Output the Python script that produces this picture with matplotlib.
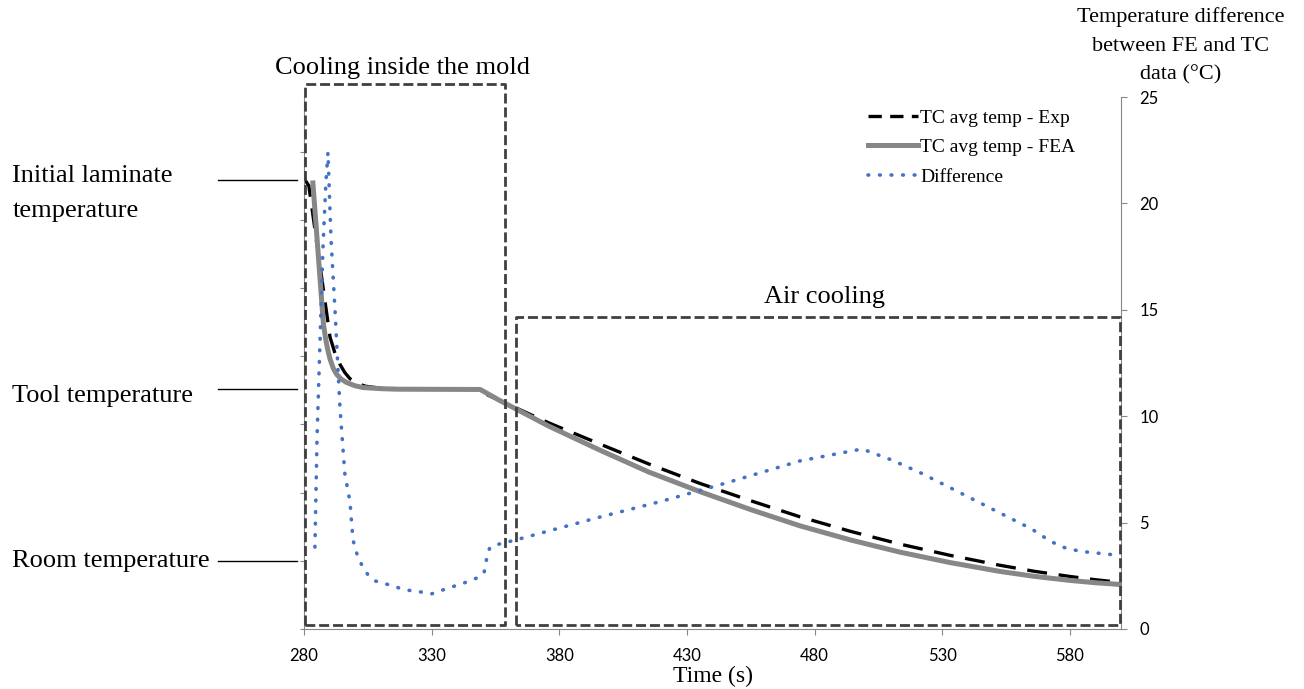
import matplotlib.pyplot as plt
from matplotlib.lines import Line2D
import matplotlib.transforms as mtransforms

# TC average temperature - experiment (left axis, no labels)
time_exp = [280, 281.9, 290.2, 292.5, 294.1, 296, 298, 301, 304, 310, 320, 340, 347,
            349, 352, 356.8, 376, 395.9, 415, 435.1, 455, 474.3, 494, 513.5, 533,
            552.6, 566, 580, 590, 600]
temp_exp = [330.4, 325, 214, 200, 194, 188, 183.5, 180, 178, 176.5, 176, 175.8, 175.5,
            174.5, 171.5, 167.4, 151, 135.6, 121, 106.7, 94, 82.2, 71.6, 62.2, 54,
            46.7, 42.3, 38.5, 36.1, 34.1]

# TC average temperature - FEA
time_fea = [283.5, 287.6, 288.3, 288.9, 289.6, 290.2, 291.5, 292.8, 294.5, 296.7, 300,
            303.2, 310, 316.3, 349, 356.8, 376, 395.9, 415, 435.1, 455, 474.3, 494,
            513.5, 533, 552.6, 566, 580, 590, 600]
temp_fea = [327, 224, 215, 208.5, 202.5, 198, 191, 186.7, 183.3, 180.7, 178.3,
            177, 176.2, 175.8, 175.6, 167.4, 148.6, 131.1, 115.1, 100.7, 87.5, 75.6, 65.3,
            56.3, 48.7, 42.2, 38.6, 35.6, 33.9, 32.6]

# difference between FE and TC data (right axis)
time_diff = [284.3, 285.1, 286.3, 287.4, 288.6, 289.4, 290.6, 292.1, 294.1, 296, 298,
             299.2, 301.2, 303.1, 305.1, 307.8, 310.9, 314.9, 318.4, 322.3, 325.8, 329.7,
             333.3, 336.8, 340.3, 343.8, 347.8, 350.5, 351.3, 351.7, 352.9, 356.4, 363.4,
             375, 395.9, 420, 445, 474.3, 498.6, 510, 521.3, 537, 552.6, 565, 572,
             577, 584, 592, 600]
diff = [3.85, 8.9, 13.6, 17.8, 21, 22.4, 18.3, 15.1, 10.4, 7.3, 6.0,
        4.18, 3.34, 2.91, 2.54, 2.26, 2.16, 2.02, 1.88, 1.79, 1.74, 1.64,
        1.79, 1.93, 2.07, 2.21, 2.40, 2.63, 3.10, 3.48, 3.85, 3.99, 4.2,
        4.58, 5.26, 6.0, 6.85, 7.9, 8.46, 7.95, 7.35, 6.4, 5.45, 4.7, 4.15,
        3.85, 3.65, 3.55, 3.45]

level_labels = ["Initial laminate\ntemperature", "Tool temperature", "Room temperature"]
level_temps = [329, 175.6, 49.6]
label_temps = [319, 171, 50]

serif = "Liberation Serif"
plt.rcParams["font.family"] = "Lato"

fig = plt.figure(figsize=(13.04, 6.89), dpi=100)
ax = fig.add_axes([0.2331, 0.0871, 0.6266, 0.7721])
ax2 = ax.twinx()

grey = "#888888"
blue = "#4472C4"
ax.plot(time_exp, temp_exp, color="black", lw=2.4, linestyle=(0, (6, 3.5)), zorder=2)
ax.plot(time_fea, temp_fea, color="#878787", lw=3.6, zorder=3)
ax2.plot(time_diff, diff, color=blue, lw=2.6, linestyle=(0, (0.2, 3)),
         dash_capstyle="round")

ax.set_xlim(280, 600)
ax.set_ylim(0, 390)
ax2.set_ylim(0, 25)
ax.set_xticks(range(280, 600, 50))
ax.set_yticks(range(0, 390, 50))
ax.set_yticklabels([])
ax2.set_yticks(range(0, 26, 5))

for s in ["top", "right"]:
    ax.spines[s].set_visible(False)
for s in ["top", "left", "bottom"]:
    ax2.spines[s].set_visible(False)
ax.spines["left"].set_color(grey)
ax.spines["bottom"].set_color(grey)
ax2.spines["right"].set_color(grey)
ax.tick_params(axis="x", length=4, color=grey, labelsize=12, pad=10)
ax.tick_params(axis="y", length=3, color=grey)
ax2.tick_params(axis="y", length=4, color=grey, labelsize=12, pad=9)

ax.set_xlabel("Time (s)", fontfamily=serif, fontsize=17, labelpad=1)
ax2.text(1.073, 1.096, "Temperature difference\nbetween FE and TC\ndata (°C)",
         transform=ax2.transAxes, ha="center", va="center", fontfamily=serif,
         fontsize=16, linespacing=1.65)

# dashed boxes marking the two cooling stages
box_kw = dict(color="#404040", lw=2, linestyle=(0, (3.6, 1.4)), clip_on=False, zorder=5)
ax2.plot([280.5, 280.5, 358.6, 358.6, 280.5], [0.2, 25.6, 25.6, 0.2, 0.2], **box_kw)
ax2.plot([363, 363, 599.6, 599.6, 363], [0.2, 14.65, 14.65, 0.2, 0.2], **box_kw)
ax2.text(318.4, 26.35, "Cooling inside the mold", ha="center", va="center",
         fontfamily=serif, fontsize=19)
ax2.text(484, 15.6, "Air cooling", ha="center", va="center",
         fontfamily=serif, fontsize=19)

# labels for the temperature levels on the left
trans = mtransforms.blended_transform_factory(ax.transAxes, ax.transData)
for lab, t, tt in zip(level_labels, level_temps, label_temps):
    ax.plot([-0.105, -0.0086], [t, t], color="black", lw=1, transform=trans, clip_on=False)
    ax.text(-0.357, tt, lab, transform=trans, ha="left", va="center",
            fontfamily=serif, fontsize=19, linespacing=1.75)

handles = [Line2D([], [], color="black", lw=2.4, linestyle=(0, (4, 2.5))),
           Line2D([], [], color="#878787", lw=3.6),
           Line2D([], [], color=blue, lw=2.6, linestyle=(0, (0.2, 3)),
                  dash_capstyle="round")]
ax2.legend(handles, ["TC avg temp - Exp", "TC avg temp - FEA", "Difference"],
           loc="upper left", bbox_to_anchor=(0.678, 0.995), frameon=False,
           prop={"family": serif, "size": 14}, handlelength=2.6, handletextpad=0.1,
           labelspacing=0.6, borderpad=0)

fig.savefig("out.png", dpi=100)
